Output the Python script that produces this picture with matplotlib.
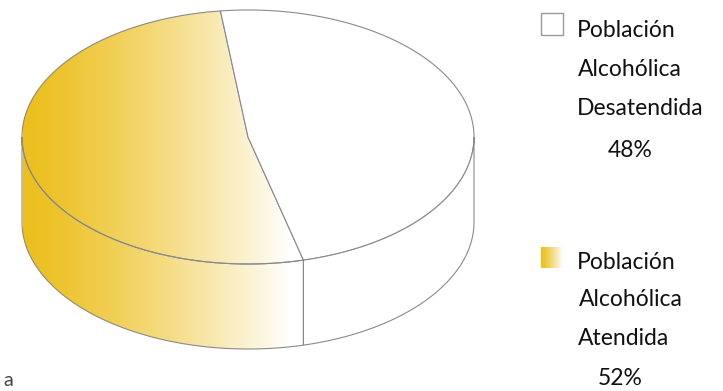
import numpy as np
import matplotlib
matplotlib.use("Agg")
import matplotlib.pyplot as plt
from matplotlib.patches import Polygon, Rectangle

# data
labels = ["Población\nAlcohólica\nDesatendida", "Población\nAlcohólica\nAtendida"]
pcts = [48, 52]
colors = ["white", "gold"]

gold = np.array([236, 191, 28]) / 255.0
edge = "#8a8a8a"
fnt = ["Lato", "DejaVu Sans"]

fig = plt.figure(figsize=(7.23, 3.91), dpi=100)
ax = fig.add_axes([0, 0, 1, 1])
ax.set_xlim(0, 723)
ax.set_ylim(391, 0)
ax.axis("off")

# cylinder geometry (pixels)
cx, cy, a, b, depth = 248, 137, 226, 127, 85
start = 97  # where the gold slice begins


def ell(t, dy=0):
    r = np.radians(t)
    return cx + a * np.cos(r), cy - b * np.sin(r) + dy


def grad(n):
    g = np.linspace(0, 1, n) ** 1.25
    return (gold[None, :] * (1 - g[:, None]) + g[:, None])[None, :, :]


def grad_img(x0, x1, clip):
    im = ax.imshow(grad(256), extent=(x0, x1, 391, 0), aspect="auto", zorder=2,
                   interpolation="bilinear")
    im.set_clip_path(clip)


# slice angles from the values (gold first, counterclockwise)
order = [1, 0]
spans = {}
t = start
for i in order:
    sweep = pcts[i] / sum(pcts) * 360
    spans[i] = (t, t + sweep)
    t += sweep

for i in order:
    t0, t1 = spans[i]
    # top face
    ts = np.linspace(t0, t1, 200)
    xs, ys = ell(ts)
    pts = np.column_stack([np.r_[cx, xs], np.r_[cy, ys]])
    top = Polygon(pts, closed=True, facecolor="white", edgecolor=edge, lw=0.8, zorder=3)
    ax.add_patch(top)
    if colors[i] == "gold":
        top.set_facecolor("none")
        grad_img(23, 292, top)

    # front side (visible between 180 and 360)
    segs = []
    for off in (0, 360, -360):
        u0, u1 = max(t0 + off, 180), min(t1 + off, 360)
        if u1 > u0:
            segs.append((u0, u1))
    for u0, u1 in segs:
        ts = np.linspace(u0, u1, 200)
        xs, ys = ell(ts)
        xb, yb = ell(ts[::-1], depth)
        pts = np.column_stack([np.r_[xs, xb], np.r_[ys, yb]])
        side = Polygon(pts, closed=True, facecolor="white", edgecolor=edge, lw=0.8, zorder=3)
        ax.add_patch(side)
        if colors[i] == "gold":
            side.set_facecolor("none")
            grad_img(23, 292, side)

# legend
box_y = [13, 247]
line_y = [[37, 76, 115, 157], [269, 306, 345, 385]]
line_x = [[577, 578, 577, 608], [577, 579, 578, 598]]
for k, i in enumerate([0, 1]):
    if colors[i] == "white":
        ax.add_patch(Rectangle((541, box_y[k]), 22, 22, facecolor="white",
                               edgecolor="#999999", lw=1.0, zorder=3))
    else:
        r = Rectangle((541, box_y[k]), 22, 21, facecolor="none", edgecolor="none", zorder=3)
        ax.add_patch(r)
        im = ax.imshow(grad(64), extent=(541, 563, box_y[k] + 21, box_y[k]), aspect="auto", zorder=2)
        im.set_clip_path(r)
    lines = labels[i].split("\n") + ["%d%%" % pcts[i]]
    for j, s in enumerate(lines):
        ax.text(line_x[k][j], line_y[k][j], s, family=fnt, weight="normal",
                fontsize=16.5, color="#111111", va="baseline", ha="left", zorder=4)

ax.text(3, 386, "a", family=fnt, fontsize=14, color="#444444",
        va="baseline", ha="left")

fig.savefig("out.png", dpi=100)
